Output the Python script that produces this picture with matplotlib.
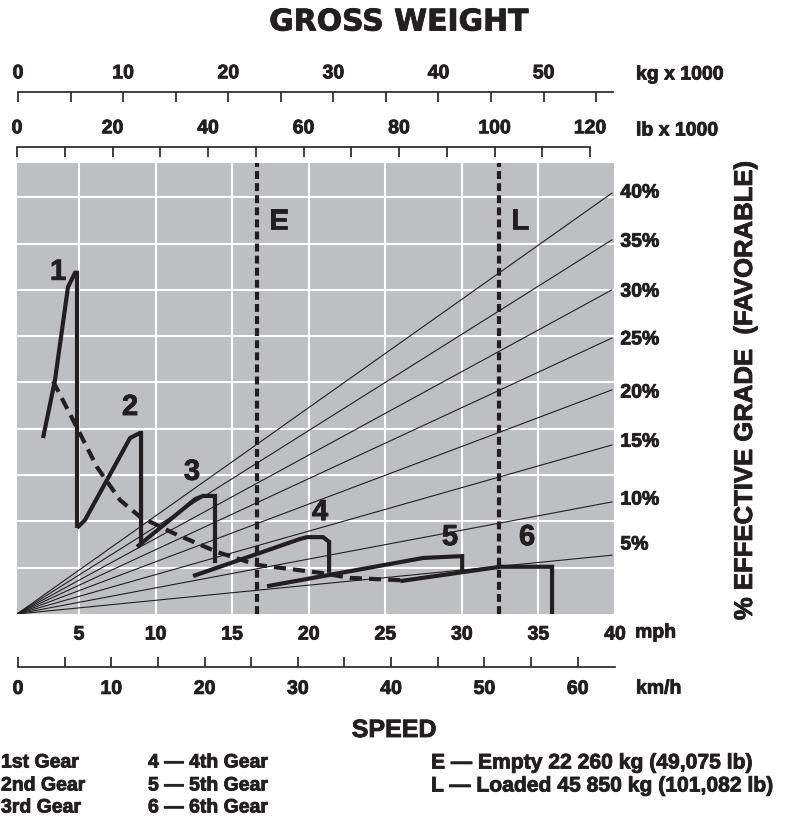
import matplotlib
matplotlib.use("Agg")
import matplotlib.pyplot as plt
import matplotlib.patheffects as pe
from matplotlib.text import Text

plt.rcParams['font.family'] = ['Liberation Sans', 'DejaVu Sans']
plt.rcParams['font.weight'] = 'bold'

# speed in mph, height in chart grid units (one white grid row = 1)
gear1_x = [2.65, 3.43, 4.28, 4.74, 4.87, 4.87]
gear1_y = [3.80, 5.05, 7.06, 7.37, 7.37, 1.86]
gear2_x = [4.87, 5.39, 8.33, 8.98, 9.05, 9.05]
gear2_y = [1.86, 2.03, 3.80, 3.91, 3.91, 1.49]
gear3_x = [8.79, 12.58, 13.10, 13.88, 13.88]
gear3_y = [1.45, 2.48, 2.55, 2.55, 1.10]
gear4_x = [12.45, 19.43, 19.89, 20.94, 21.33, 21.33]
gear4_y = [0.82, 1.62, 1.66, 1.66, 1.56, 0.89]
gear5_x = [17.28, 27.47, 30.02, 30.02]
gear5_y = [0.60, 1.21, 1.25, 0.89]
gear6_x = [25.97, 32.50, 35.89, 35.89]
gear6_y = [0.71, 1.02, 1.02, 0.0]
envelope_x = [3.30, 4.61, 6.18, 7.68, 8.98, 11.14, 14.01, 16.63, 20.74, 22.70, 25.97]
envelope_y = [5.03, 4.19, 3.17, 2.46, 2.10, 1.75, 1.34, 1.06, 0.89, 0.78, 0.73]

gears = [(gear1_x, gear1_y), (gear2_x, gear2_y), (gear3_x, gear3_y),
         (gear4_x, gear4_y), (gear5_x, gear5_y), (gear6_x, gear6_y)]
gear_names = ['1', '2', '3', '4', '5', '6']
gear_label_pos = [(3.63, 7.39), (8.33, 4.47), (12.38, 3.07), (20.74, 2.20), (29.23, 1.66), (34.26, 1.66)]

grades = ['5%', '10%', '15%', '20%', '25%', '30%', '35%', '40%']
grade_end = [1.27, 2.42, 3.65, 4.84, 5.96, 7.00, 8.08, 9.09]
grade_label_y = [1.49, 2.46, 3.71, 4.77, 5.92, 6.95, 8.03, 9.09]

mph_ticks = [5, 10, 15, 20, 25, 30, 35, 40]
kmh_ticks = [0, 10, 20, 30, 40, 50, 60]
kg_ticks = [0, 10, 20, 30, 40, 50]
lb_ticks = [0, 20, 40, 60, 80, 100, 120]

empty_mph = 16.6
loaded_mph = 32.4

W, H = 794, 827
ink = '#231f20'
fs = 14

fig = plt.figure(figsize=(W / 100, H / 100), dpi=100)

ax = fig.add_axes([17 / W, 1 - 614 / H, 598 / W, 451 / H])
ax.set_facecolor('#bebfc3')
ax.set_xlim(0.95, 40)
ax.set_ylim(0, 9.74)
ax.set_xticks(mph_ticks)
ax.set_yticks(range(1, 10))
ax.set_yticklabels([])
ax.grid(True, color='white', lw=1.5)
ax.set_axisbelow(True)
ax.tick_params(length=0, labelsize=fs, pad=9, colors=ink)
for s in ax.spines.values():
    s.set_visible(False)

# grade fan
for h, lab, ly in zip(grade_end, grades, grade_label_y):
    ax.plot([0.95, 39.8], [0, h], color=ink, lw=0.8)
    ax.text(40.35, ly, lab, ha='left', va='center', fontsize=fs, color=ink, clip_on=False)

# E / L weight lines
for xv, lab in [(empty_mph, 'E'), (loaded_mph, 'L')]:
    ax.axvline(xv, color=ink, lw=3, linestyle=(0, (1.9, 1.0)))
    ax.text(xv + 0.8, 8.48, lab, fontsize=21, color=ink, ha='left', va='center')

ax.plot(envelope_x, envelope_y, color=ink, lw=3, linestyle=(0, (2.9, 1.7)))
for (gx, gy), name, (tx, ty) in zip(gears, gear_names, gear_label_pos):
    ax.plot(gx, gy, color=ink, lw=3, solid_joinstyle='miter', solid_capstyle='butt')
    ax.text(tx, ty, name, fontsize=21, color=ink, ha='center', va='center')


def scale_axis(left, right, y, lim, major, minor, top):
    a = fig.add_axes([left / W, 1 - y / H - (0.01 if top else 0), (right - left) / W, 0.01])
    a.patch.set_visible(False)
    for k, s in a.spines.items():
        s.set_visible(k == ('top' if top else 'bottom'))
        s.set_linewidth(1.2)
        s.set_color(ink)
    a.set_xlim(*lim)
    a.set_yticks([])
    a.set_xticks(major)
    a.set_xticks(minor, minor=True)
    if top:
        a.xaxis.set_ticks_position('top')
    a.tick_params(axis='x', which='both', direction='in', length=7, width=1.2,
                  colors=ink, labelsize=fs, pad=7 if top else 10)
    return a


scale_axis(18, 613, 92, (0, 56.6), kg_ticks, [5, 15, 25, 35, 45, 55], True)
scale_axis(17, 590, 147, (0, 120), lb_ticks, [10, 30, 50, 70, 90, 110], True)
scale_axis(18, 615, 667, (0, 64), kmh_ticks, [5, 15, 25, 35, 45, 55], False)


def ftext(x, y, s, **kw):
    kw.setdefault('fontsize', fs)
    kw.setdefault('color', ink)
    fig.text(x / W, 1 - y / H, s, **kw)


ftext(636, 75, 'kg x 1000', va='center')
ftext(636, 131, 'lb x 1000', va='center')
ftext(635, 633, 'mph', va='center')
ftext(636, 689, 'km/h', va='center')

ftext(399, 22, 'GROSS WEIGHT', ha='center', va='center', fontsize=21.5,
      family=['DejaVu Sans'])
ftext(394, 730, 'SPEED', ha='center', va='center', fontsize=18)
ftext(745, 390, '% EFFECTIVE GRADE  (FAVORABLE)', ha='center', va='center',
      rotation=90, fontsize=18.5)

ftext(1, 763, '1st Gear', va='center')
ftext(1, 786, '2nd Gear', va='center')
ftext(1, 808, '3rd Gear', va='center')
ftext(148, 763, '4 \u2014 4th Gear', va='center')
ftext(148, 786, '5 \u2014 5th Gear', va='center')
ftext(148, 808, '6 \u2014 6th Gear', va='center')
ftext(431, 763, 'E \u2014 Empty 22 260 kg (49,075 lb)', va='center', fontsize=15.2)
ftext(431, 786, 'L \u2014 Loaded 45 850 kg (101,082 lb)', va='center', fontsize=15.2)

# the printed lettering is heavier than a plain bold face
fig.canvas.draw()
for t in fig.findobj(Text):
    if t.get_text():
        t.set_path_effects([pe.withStroke(linewidth=0.6, foreground=ink)])

fig.savefig('out.png', dpi=100)
